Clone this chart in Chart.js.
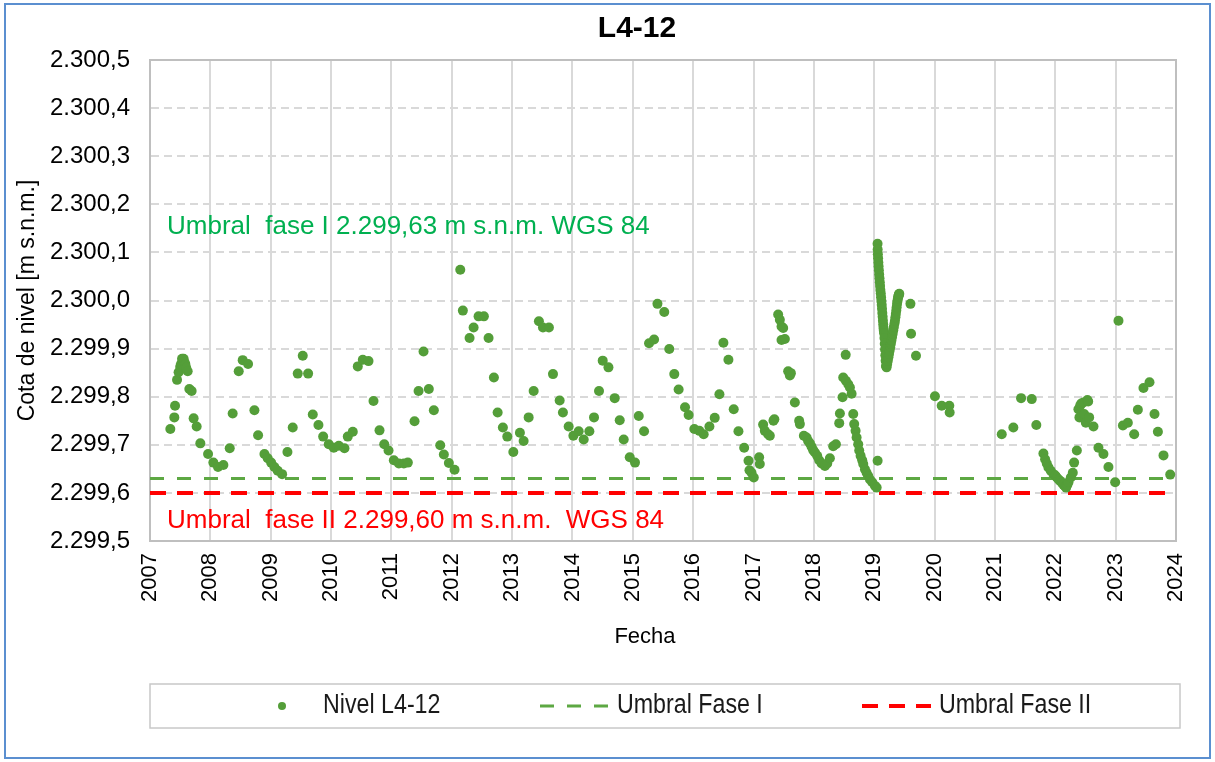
<!DOCTYPE html>
<html>
<head>
<meta charset="utf-8">
<script src="https://cdn.jsdelivr.net/npm/chart.js@4.4.1/dist/chart.umd.min.js"></script>
<style>
  html, body { margin: 0; padding: 0; background: #ffffff; }
  canvas { display: block; }
</style>
</head>
<body>
<canvas id="grafico" width="1215" height="762"></canvas>
<script>
// Fecha de cada medición (año decimal) y cota de nivel medida [m s.n.m.]
const fechas = [
  2007.337, 2007.403, 2007.415, 2007.448, 2007.474, 2007.500, 2007.514, 2007.531, 2007.541, 2007.557,
  2007.570, 2007.585, 2007.600, 2007.624, 2007.652, 2007.690, 2007.723, 2007.773, 2007.834, 2007.962,
  2008.050, 2008.127, 2008.216, 2008.321, 2008.370, 2008.470, 2008.536, 2008.625, 2008.730, 2008.791,
  2008.896, 2008.950, 2009.007, 2009.061, 2009.116, 2009.189, 2009.277, 2009.365, 2009.448, 2009.531,
  2009.620, 2009.697, 2009.791, 2009.869, 2009.962, 2010.045, 2010.128, 2010.222, 2010.277, 2010.360,
  2010.443, 2010.526, 2010.620, 2010.703, 2010.803, 2010.881, 2010.952, 2011.040, 2011.123, 2011.206,
  2011.272, 2011.383, 2011.450, 2011.532, 2011.620, 2011.703, 2011.809, 2011.869, 2011.952, 2012.046,
  2012.141, 2012.184, 2012.295, 2012.362, 2012.444, 2012.532, 2012.610, 2012.698, 2012.760, 2012.847,
  2012.920, 2013.020, 2013.129, 2013.191, 2013.274, 2013.357, 2013.444, 2013.511, 2013.610, 2013.677,
  2013.788, 2013.842, 2013.937, 2014.015, 2014.103, 2014.186, 2014.280, 2014.357, 2014.440, 2014.501,
  2014.596, 2014.700, 2014.783, 2014.849, 2014.949, 2015.036, 2015.098, 2015.186, 2015.269, 2015.352,
  2015.408, 2015.521, 2015.604, 2015.687, 2015.759, 2015.865, 2015.925, 2016.019, 2016.102, 2016.174,
  2016.269, 2016.357, 2016.435, 2016.501, 2016.584, 2016.672, 2016.750, 2016.845, 2016.917, 2016.933,
  2016.967, 2017.004, 2017.093, 2017.104, 2017.159, 2017.187, 2017.242, 2017.270, 2017.330, 2017.345,
  2017.408, 2017.436, 2017.464, 2017.491, 2017.464, 2017.519, 2017.574, 2017.602, 2017.619, 2017.685,
  2017.756, 2017.768, 2017.834, 2017.879, 2017.905, 2017.934, 2017.962, 2017.988, 2018.017, 2018.055,
  2018.088, 2018.128, 2018.183, 2018.221, 2018.265, 2018.320, 2018.365, 2018.420, 2018.431, 2018.475,
  2018.486, 2018.527, 2018.530, 2018.569, 2018.597, 2018.625, 2018.652, 2018.668, 2018.691, 2018.708,
  2018.735, 2018.751, 2018.774, 2018.801, 2018.818, 2018.846, 2018.873, 2018.901, 2018.929, 2018.967,
  2019.011, 2019.040, 2019.056,
  2019.055, 2019.057, 2019.060, 2019.064, 2019.068, 2019.072, 2019.077, 2019.082, 2019.087, 2019.092,
  2019.097, 2019.102, 2019.108, 2019.113, 2019.118, 2019.124, 2019.129, 2019.134, 2019.139, 2019.144,
  2019.149, 2019.154, 2019.159, 2019.164, 2019.169, 2019.174, 2019.179, 2019.184, 2019.189, 2019.194,
  2019.205, 2019.215, 2019.225, 2019.235, 2019.245, 2019.255, 2019.265, 2019.275, 2019.285, 2019.295,
  2019.305, 2019.315, 2019.325, 2019.335, 2019.343, 2019.351, 2019.358, 2019.365, 2019.371, 2019.378,
  2019.385, 2019.392, 2019.398, 2019.404, 2019.410, 2019.415,
  2019.600, 2019.610, 2019.692, 2020.006, 2020.118, 2020.244, 2020.250,
  2021.113, 2021.305, 2021.433, 2021.610, 2021.686, 2021.803, 2021.831, 2021.859, 2021.886, 2021.925,
  2021.969, 2022.000, 2022.025, 2022.055, 2022.080, 2022.110, 2022.135, 2022.160, 2022.180, 2022.200,
  2022.218, 2022.257, 2022.290, 2022.312, 2022.357, 2022.383, 2022.400, 2022.411, 2022.430, 2022.466,
  2022.478, 2022.506, 2022.532, 2022.545, 2022.561, 2022.633, 2022.715, 2022.798, 2022.881, 2022.992,
  2023.047, 2023.120, 2023.202, 2023.307, 2023.368, 2023.461, 2023.561, 2023.644, 2023.700, 2023.793,
  2023.904
];

const niveles = [
  2299.733, 2299.757, 2299.781, 2299.835, 2299.851, 2299.862, 2299.868, 2299.879, 2299.865, 2299.879,
  2299.872, 2299.868, 2299.860, 2299.853, 2299.816, 2299.812, 2299.755, 2299.738, 2299.703, 2299.681,
  2299.663, 2299.654, 2299.658, 2299.693, 2299.765, 2299.853, 2299.876, 2299.868, 2299.772, 2299.720,
  2299.681, 2299.672, 2299.663, 2299.654, 2299.646, 2299.639, 2299.685, 2299.736, 2299.848, 2299.885,
  2299.848, 2299.763, 2299.741, 2299.717, 2299.701, 2299.694, 2299.698, 2299.693, 2299.717, 2299.727,
  2299.863, 2299.877, 2299.874, 2299.791, 2299.730, 2299.701, 2299.688, 2299.668, 2299.661, 2299.661,
  2299.663, 2299.749, 2299.812, 2299.894, 2299.816, 2299.772, 2299.699, 2299.680, 2299.662, 2299.648,
  2300.064, 2299.979, 2299.922, 2299.944, 2299.967, 2299.967, 2299.922, 2299.840, 2299.767, 2299.736,
  2299.717, 2299.685, 2299.725, 2299.708, 2299.757, 2299.812, 2299.957, 2299.944, 2299.944, 2299.847,
  2299.792, 2299.767, 2299.738, 2299.719, 2299.728, 2299.711, 2299.728, 2299.757, 2299.812, 2299.875,
  2299.861, 2299.797, 2299.751, 2299.711, 2299.674, 2299.663, 2299.760, 2299.728, 2299.911, 2299.919,
  2299.993, 2299.976, 2299.899, 2299.847, 2299.815, 2299.778, 2299.762, 2299.733, 2299.729, 2299.722,
  2299.738, 2299.756, 2299.805, 2299.912, 2299.877, 2299.774, 2299.728, 2299.694, 2299.667, 2299.647,
  2299.642, 2299.632, 2299.674, 2299.660, 2299.742, 2299.729, 2299.722, 2299.719, 2299.750, 2299.753,
  2299.971, 2299.960, 2299.946, 2299.943, 2299.918, 2299.920, 2299.853, 2299.844, 2299.849, 2299.788,
  2299.750, 2299.743, 2299.719, 2299.715, 2299.708, 2299.703, 2299.696, 2299.689, 2299.684, 2299.677,
  2299.668, 2299.661, 2299.656, 2299.661, 2299.672, 2299.697, 2299.701, 2299.745, 2299.765, 2299.799,
  2299.840, 2299.887, 2299.833, 2299.826, 2299.819, 2299.806, 2299.764, 2299.743, 2299.729, 2299.715,
  2299.701, 2299.688, 2299.677, 2299.668, 2299.660, 2299.649, 2299.642, 2299.635, 2299.628, 2299.622,
  2299.615, 2299.611, 2299.667,
  2300.118, 2300.106, 2300.096, 2300.088, 2300.079, 2300.071, 2300.063, 2300.054, 2300.046, 2300.038,
  2300.030, 2300.022, 2300.015, 2300.007, 2299.999, 2299.991, 2299.983, 2299.974, 2299.966, 2299.958,
  2299.950, 2299.943, 2299.937, 2299.932, 2299.922, 2299.910, 2299.898, 2299.886, 2299.875, 2299.864,
  2299.861, 2299.868, 2299.875, 2299.882, 2299.889, 2299.896, 2299.903, 2299.910, 2299.917, 2299.924,
  2299.931, 2299.938, 2299.945, 2299.952, 2299.958, 2299.965, 2299.972, 2299.979, 2299.986, 2299.993,
  2299.999, 2300.004, 2300.008, 2300.010, 2300.013, 2300.014,
  2299.993, 2299.931, 2299.885, 2299.801, 2299.781, 2299.781, 2299.767,
  2299.722, 2299.736, 2299.797, 2299.795, 2299.741, 2299.682, 2299.670, 2299.661, 2299.653, 2299.646,
  2299.639, 2299.636, 2299.632, 2299.628, 2299.625, 2299.621, 2299.617, 2299.614, 2299.611, 2299.617,
  2299.622, 2299.632, 2299.642, 2299.663, 2299.688, 2299.774, 2299.757, 2299.781, 2299.786, 2299.788,
  2299.764, 2299.746, 2299.793, 2299.790, 2299.757, 2299.738, 2299.694, 2299.681, 2299.654, 2299.622,
  2299.958, 2299.740, 2299.746, 2299.722, 2299.773, 2299.818, 2299.830, 2299.764, 2299.727, 2299.678,
  2299.638
];

// Umbrales de alerta [m s.n.m. WGS 84]
const umbralFaseI = 2299.63;
const umbralFaseII = 2299.60;

// Ejes
const anioInicio = 2007;
const anioFin = 2024;
const cotaMin = 2299.5;
const cotaMax = 2300.5;
const pasoCota = 0.1;

const FUENTE = '"Liberation Sans", Arial, sans-serif';

// Formato numérico con punto de miles y coma decimal
function formatoCota(v, decimales) {
  const s = (Math.round(v * Math.pow(10, decimales)) / Math.pow(10, decimales)).toFixed(decimales);
  const partes = s.split('.');
  const ent = partes[0];
  const miles = ent.length > 3 ? ent.slice(0, ent.length - 3) + '.' + ent.slice(-3) : ent;
  return decimales > 0 ? miles + ',' + partes[1] : miles;
}

const COLOR_NIVEL = '#549E39';
const COLOR_FASE_I = '#5DA843';
const COLOR_FASE_II = '#FF0000';

const puntos = fechas.map((f, i) => ({ x: f, y: niveles[i] }));

// Texto estrechado horizontalmente para la leyenda
function textoEstrecho(ctx, texto, x, y, factor) {
  ctx.save();
  ctx.translate(x, y);
  ctx.scale(factor, 1);
  ctx.fillText(texto, 0, 0);
  ctx.restore();
}

const decoracion = {
  id: 'decoracion',
  beforeDraw(chart) {
    const ctx = chart.ctx;
    ctx.save();
    ctx.fillStyle = '#ffffff';
    ctx.fillRect(0, 0, chart.width, chart.height);
    ctx.restore();
  },
  beforeDatasetsDraw(chart) {
    const { ctx, chartArea: a } = chart;
    ctx.save();
    ctx.strokeStyle = '#BFBFBF';
    ctx.lineWidth = 2;
    ctx.strokeRect(a.left, a.top, a.right - a.left, a.bottom - a.top);
    ctx.restore();
  },
  afterDraw(chart) {
    const { ctx, chartArea: a } = chart;
    const yS = chart.scales.y;
    ctx.save();

    // Título
    ctx.fillStyle = '#000000';
    ctx.font = 'bold 30px ' + FUENTE;
    ctx.textAlign = 'center';
    ctx.textBaseline = 'middle';
    ctx.fillText('L4-12', 637, 29);

    // Título del eje X
    ctx.font = '22px ' + FUENTE;
    ctx.fillText('Fecha', 645, 637);

    // Rótulos de los umbrales
    ctx.textAlign = 'left';
    ctx.font = '26px ' + FUENTE;
    ctx.fillStyle = '#00B050';
    ctx.fillText('Umbral  fase I ' + formatoCota(umbralFaseI, 2) + ' m s.n.m. WGS 84', a.left + 17, yS.getPixelForValue(2300.153));
    ctx.fillStyle = '#FF0000';
    ctx.fillText('Umbral  fase II ' + formatoCota(umbralFaseII, 2) + ' m s.n.m.  WGS 84', a.left + 17, yS.getPixelForValue(2299.542));

    // Leyenda
    ctx.strokeStyle = '#C8C8C8';
    ctx.lineWidth = 1.5;
    ctx.strokeRect(150, 684, 1030, 44);
    const yL = 706;
    const ds = chart.data.datasets;
    ctx.font = '27px ' + FUENTE;
    ctx.textBaseline = 'middle';

    ctx.beginPath();
    ctx.fillStyle = COLOR_NIVEL;
    ctx.arc(282, yL, 4, 0, Math.PI * 2);
    ctx.fill();
    ctx.fillStyle = '#1a1a1a';
    textoEstrecho(ctx, ds[0].label, 323, yL, 0.86);

    const lineaLeyenda = (x0, x1, d) => {
      ctx.save();
      ctx.strokeStyle = d.borderColor;
      ctx.lineWidth = d.borderWidth;
      ctx.setLineDash(d.borderDash);
      ctx.beginPath();
      ctx.moveTo(x0, yL);
      ctx.lineTo(x1, yL);
      ctx.stroke();
      ctx.restore();
    };
    lineaLeyenda(540, 609, ds[1]);
    textoEstrecho(ctx, ds[1].label, 617, yL, 0.86);
    lineaLeyenda(862, 931, ds[2]);
    textoEstrecho(ctx, ds[2].label, 939, yL, 0.86);

    // Marco exterior
    ctx.strokeStyle = '#5B8FD0';
    ctx.lineWidth = 2;
    ctx.strokeRect(5, 4, 1205, 754);
    ctx.restore();
  }
};

new Chart(document.getElementById('grafico'), {
  type: 'scatter',
  data: {
    datasets: [
      {
        label: 'Nivel L4-12',
        data: puntos,
        pointRadius: 5,
        pointHoverRadius: 5,
        pointBackgroundColor: COLOR_NIVEL,
        pointBorderWidth: 0,
        showLine: false
      },
      {
        label: 'Umbral Fase I',
        data: [{ x: anioInicio, y: umbralFaseI }, { x: anioFin, y: umbralFaseI }],
        showLine: true,
        borderColor: COLOR_FASE_I,
        borderWidth: 3,
        borderDash: [14, 13],
        pointRadius: 0
      },
      {
        label: 'Umbral Fase II',
        data: [{ x: anioInicio, y: umbralFaseII }, { x: anioFin, y: umbralFaseII }],
        showLine: true,
        borderColor: COLOR_FASE_II,
        borderWidth: 4,
        borderDash: [16, 11],
        pointRadius: 0
      }
    ]
  },
  options: {
    responsive: false,
    animation: false,
    events: [],
    layout: { padding: { left: 5, top: 60, right: 39, bottom: 111 } },
    plugins: {
      legend: { display: false },
      tooltip: { enabled: false },
      title: { display: false }
    },
    scales: {
      x: {
        type: 'linear',
        min: anioInicio,
        max: anioFin,
        afterFit(s) { s.height = 110; },
        ticks: {
          stepSize: 1,
          autoSkip: false,
          minRotation: 90,
          maxRotation: 90,
          padding: 12,
          color: '#000000',
          font: { family: FUENTE, size: 22 },
          callback: v => String(v)
        },
        grid: { color: '#D9D9D9', lineWidth: 2, drawTicks: false },
        border: { display: true, color: '#BFBFBF', width: 2 }
      },
      y: {
        min: cotaMin,
        max: cotaMax,
        afterFit(s) { s.width = 145; },
        ticks: {
          stepSize: pasoCota,
          padding: 20,
          color: '#000000',
          font: { family: FUENTE, size: 24 },
          callback: v => formatoCota(v, 1)
        },
        grid: { color: '#D9D9D9', lineWidth: 2, drawTicks: false },
        border: { display: true, color: '#BFBFBF', width: 2, dash: [8, 5] },
        title: {
          display: true,
          text: 'Cota de nivel [m s.n.m.]',
          color: '#000000',
          font: { family: FUENTE, size: 23 },
          padding: { top: 9, bottom: 0 }
        }
      }
    }
  },
  plugins: [decoracion]
});
</script>
</body>
</html>
